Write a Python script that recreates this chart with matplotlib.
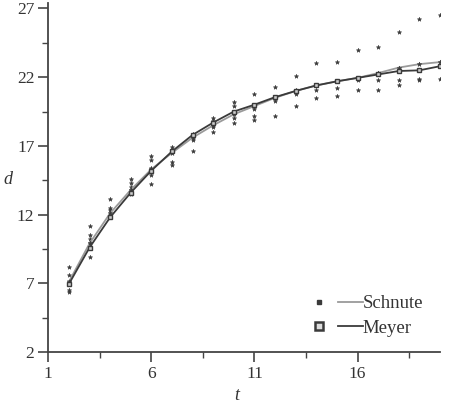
import matplotlib
matplotlib.use("Agg")
import matplotlib.pyplot as plt
from matplotlib.lines import Line2D
from matplotlib.legend_handler import HandlerTuple

plt.rcParams['font.family'] = ['Liberation Serif', 'DejaVu Serif']

# ages
t_fit = list(range(2, 21))
# fitted curves
schnute = [7.1, 9.9, 12.1, 13.8, 15.3, 16.5, 17.6, 18.5, 19.3, 19.9, 20.5, 21.0,
           21.4, 21.7, 21.95, 22.3, 22.7, 22.95, 23.1]
meyer = [6.95, 9.6, 11.8, 13.6, 15.2, 16.6, 17.8, 18.7, 19.5, 20.0, 20.55, 21.0,
         21.4, 21.7, 21.95, 22.2, 22.45, 22.5, 22.8]

# observations
obs = {
    2: [8.2, 7.6, 7.2, 6.5, 6.35],
    3: [11.2, 10.5, 10.2, 9.9, 8.9],
    4: [13.1, 12.5, 12.3, 11.9],
    5: [14.6, 14.3, 14.0, 13.8, 13.5],
    6: [16.3, 16.0, 15.4, 14.9, 14.2],
    7: [16.9, 16.7, 15.8, 15.6],
    8: [17.9, 17.7, 17.4, 16.6],
    9: [19.0, 18.8, 18.35, 18.0],
    10: [20.2, 19.9, 19.0, 18.7],
    11: [20.8, 19.7, 19.2, 18.9],
    12: [21.3, 20.3, 19.2],
    13: [22.1, 21.1, 20.8, 19.9],
    14: [23.0, 21.1, 20.45],
    15: [23.1, 21.2, 20.65],
    16: [24.0, 21.8, 21.1],
    17: [24.2, 21.8, 21.1],
    18: [25.3, 21.8, 21.45],
    19: [26.2, 21.9, 21.8],
    20: [26.5, 21.9],
}

obs_t = [t for t, vals in obs.items() for _ in vals]
obs_d = [v for vals in obs.values() for v in vals]

fig = plt.figure(figsize=(4.51, 4.04), dpi=100)
ax = fig.add_axes([48.3/451, 1-352/404, (440-48.3)/451, (352-3)/404])

dark = '#3a3a3a'
ax.plot(obs_t, obs_d, linestyle='none', marker='*', markersize=3.2,
        color=dark, markeredgewidth=0.4)
ax.plot(t_fit, schnute, color='#9a9a9a', lw=1.3)
ax.plot(t_fit, meyer, color=dark, lw=1.3)
ax.plot(t_fit, schnute, linestyle='none', marker='*', markersize=3.5, color=dark,
        markeredgewidth=0.4)
ax.plot(t_fit, meyer, linestyle='none', marker='s', markersize=3.3,
        markerfacecolor='#cccccc', markeredgecolor=dark, markeredgewidth=1.0)

ax.set_xlim(1, 20.0)
ax.set_ylim(2, 27.4)
ax.set_xticks([1, 6, 11, 16])
ax.set_xticks([3.5, 8.5, 13.5, 18.5], minor=True)
ax.set_yticks([2, 7, 12, 17, 22, 27])
ax.set_yticks([4.5, 9.5, 14.5, 19.5, 24.5], minor=True)

for s in ['top', 'right']:
    ax.spines[s].set_visible(False)
for s in ['left', 'bottom']:
    ax.spines[s].set_color('#444444')
    ax.spines[s].set_linewidth(1.3)
ax.tick_params(which='major', length=7, width=1.2, color='#444444',
               labelsize=12.5, labelcolor='#333333', pad=3)
ax.tick_params(which='minor', length=4, width=1.0, color='#444444')

ax.set_xlabel('t', fontstyle='italic', fontsize=13, color='#333333')
ax.set_ylabel('d', fontstyle='italic', fontsize=13, color='#333333', rotation=0)
ax.xaxis.set_label_coords((237-48.3)/391.7, -(395-352)/349)
ax.yaxis.set_label_coords((8-48.3)/391.7, (352-180)/349)
ax.xaxis.label.set_va('center')
ax.yaxis.label.set_va('center')

h_s = (Line2D([], [], linestyle='none', marker='s', markersize=3.5, color=dark),
       Line2D([], [], color='#9a9a9a', lw=1.3))
h_m = (Line2D([], [], linestyle='none', marker='s', markersize=6,
              markerfacecolor='#dddddd', markeredgecolor=dark, markeredgewidth=1.8),
       Line2D([], [], color=dark, lw=1.3))
leg = ax.legend([h_s, h_m], ['Schnute', 'Meyer'],
                handler_map={tuple: HandlerTuple(ndivide=None, pad=0.4)},
                loc='lower right', bbox_to_anchor=(1.0, -0.005), frameon=False,
                fontsize=13.5, handlelength=3.0, handletextpad=0.0,
                labelspacing=0.4)
for txt in leg.get_texts():
    txt.set_color('#333333')

fig.savefig('out.png', dpi=100)
